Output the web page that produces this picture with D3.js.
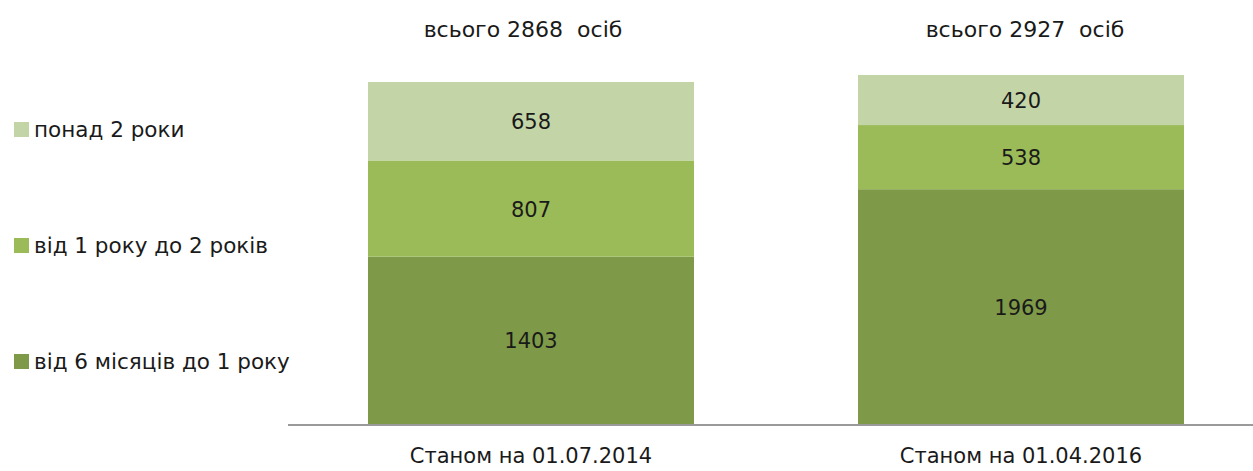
<!DOCTYPE html>
<html>
<head>
<meta charset="utf-8">
<script src="https://cdn.jsdelivr.net/npm/d3@7"></script>
<style>
  html, body { margin: 0; padding: 0; background: #ffffff; }
  svg { display: block; }
  text { font-family: "DejaVu Sans", "Noto Sans", sans-serif; fill: #1a1a1a; }
</style>
</head>
<body>
<svg id="chart" width="1253" height="471"></svg>
<script>
// ---- data ----
const categories = ["Станом на 01.07.2014", "Станом на 01.04.2016"];
const seriesNames = ["від 6 місяців до 1 року", "від 1 року до 2 років", "понад 2 роки"];
const sixToTwelve = [1403, 1969];
const oneToTwo = [807, 538];
const overTwo = [658, 420];
const totals = [2868, 2927];
const totalLabels = ["всього 2868  осіб", "всього 2927  осіб"];
const colors = ["#7e9a48", "#9bbb59", "#c3d5a7"];

const svg = d3.select("#chart");
const FONT = 21;
const FAMILY = '"DejaVu Sans", "Noto Sans", sans-serif';

const rows = categories.map((c, i) => ({
  cat: c,
  s0: sixToTwelve[i],
  s1: oneToTwo[i],
  s2: overTwo[i]
}));
const stack = d3.stack().keys(["s0", "s1", "s2"]);
const stacked = stack(rows);

const x = d3.scaleBand().domain(categories).range([368, 1184]).paddingInner(0.3347).paddingOuter(0);
const y = d3.scaleLinear().domain([0, 2868]).range([424, 82]);

// bars
const layers = svg.append("g").selectAll("g").data(stacked).join("g")
  .attr("fill", (d, i) => colors[i]);
layers.selectAll("rect").data(d => d).join("rect")
  .attr("x", d => x(d.data.cat))
  .attr("width", x.bandwidth())
  .attr("y", d => y(d[1]))
  .attr("height", d => y(d[0]) - y(d[1]));

// value labels
layers.selectAll("text").data(d => d).join("text")
  .attr("x", d => x(d.data.cat) + x.bandwidth() / 2)
  .attr("y", d => (y(d[0]) + y(d[1])) / 2 + 8)
  .attr("text-anchor", "middle")
  .attr("font-size", FONT)
  .text(d => d[1] - d[0]);

// category axis
const xAxis = d3.axisBottom(x).tickSize(0).tickPadding(24);
const gx = svg.append("g").attr("transform", `translate(0,${y(0)})`).call(xAxis);
gx.select(".domain").remove();
gx.selectAll("text").attr("font-size", FONT).attr("fill", "#1a1a1a")
  .style("font-family", FAMILY);
svg.append("line")
  .attr("x1", 288).attr("x2", 1253)
  .attr("y1", y(0) + 1).attr("y2", y(0) + 1)
  .attr("stroke", "#9a9a9a").attr("stroke-width", 2);

// totals above
svg.append("g").selectAll("text").data(categories).join("text")
  .attr("x", d => x(d) + x.bandwidth() / 2)
  .attr("dx", (d, i) => i === 0 ? -8 : 4)
  .attr("y", 37)
  .attr("text-anchor", "middle")
  .attr("font-size", 22)
  .attr("xml:space", "preserve")
  .style("white-space", "pre")
  .text((d, i) => totalLabels[i]);

// legend
const legendOrder = [2, 1, 0];
const ly = d3.scalePoint().domain(legendOrder).range([129, 361]);
const lg = svg.append("g").selectAll("g").data(legendOrder).join("g")
  .attr("transform", d => `translate(14,${ly(d)})`);
lg.append("rect").attr("x", 0).attr("y", -7).attr("width", 15).attr("height", 15)
  .attr("fill", d => colors[d]);
lg.append("text").attr("x", 20).attr("y", 8).attr("font-size", 21.5)
  .text(d => seriesNames[d]);
</script>
</body>
</html>
